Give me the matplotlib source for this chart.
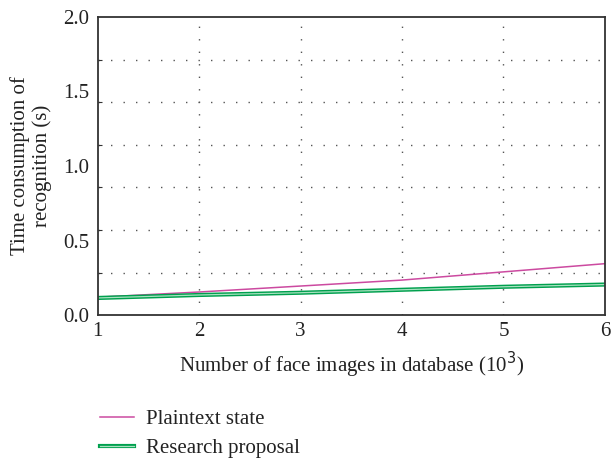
import matplotlib
matplotlib.use('Agg')
import matplotlib.pyplot as plt
import matplotlib.patheffects as pe
import numpy as np

plt.rcParams['font.family'] = ['Liberation Serif', 'DejaVu Serif']

# data
images = [1, 2, 3, 4, 5, 6]
plaintext = [0.12, 0.155, 0.195, 0.235, 0.29, 0.345]
proposal = [0.115, 0.135, 0.15, 0.17, 0.19, 0.205]

fig = plt.figure(figsize=(6.11, 4.58), dpi=100)
ax = fig.add_axes([0.160, 0.312, 0.830, 0.651])

ax.plot(images, plaintext, color='#cc4aa0', lw=1.1, label='Plaintext state')
ax.plot(images, proposal, color='#a8e2c0', lw=0.9, label='Research proposal',
        path_effects=[pe.Stroke(linewidth=3.0, foreground='#00a04e'), pe.Normal()])

ax.set_xlim(1, 6)
ax.set_ylim(0, 2.0)

# grid lines (dotted)
grid_y = np.arange(1, 7) * 2 / 7
for gy in grid_y:
    ax.axhline(gy, color='#555555', lw=1.0, ls=(0, (1, 8)), zorder=0)
for gx in [2, 3, 4, 5]:
    ax.axvline(gx, color='#555555', lw=1.0, ls=(0, (1, 8)), zorder=0)

# ticks: marks at grid positions, labels at 0.5 steps
ax.set_yticks(grid_y)
ax.set_yticklabels([])
ax.set_yticks([0, 0.5, 1.0, 1.5, 2.0], minor=True)
ax.set_yticklabels(['0.0', '0.5', '1.0', '1.5', '2.0'], minor=True)
ax.set_xticks(images)
ax.set_xticklabels([str(v) for v in images])
ax.tick_params(axis='y', which='major', direction='in', length=3, color='#333333')
ax.tick_params(axis='y', which='minor', length=0, pad=6, labelsize=15, labelcolor='#222222')
ax.tick_params(axis='x', which='major', length=0, pad=5, labelsize=15, labelcolor='#222222')

for s in ax.spines.values():
    s.set_color('#333333')
    s.set_linewidth(1.3)

ax.set_xlabel('Number of face images in database (10$^3$)', fontsize=15, color='#222222', labelpad=6)
ax.set_ylabel('Time consumption of\nrecognition (s)', fontsize=15, color='#222222', labelpad=8,
              linespacing=1.15)

leg = ax.legend(loc='upper left', bbox_to_anchor=(-0.032, -0.255), frameon=False,
                fontsize=15, handlelength=1.6, handletextpad=0.6, labelspacing=0.45)
for t in leg.get_texts():
    t.set_color('#222222')

fig.savefig('out.png', dpi=100)
